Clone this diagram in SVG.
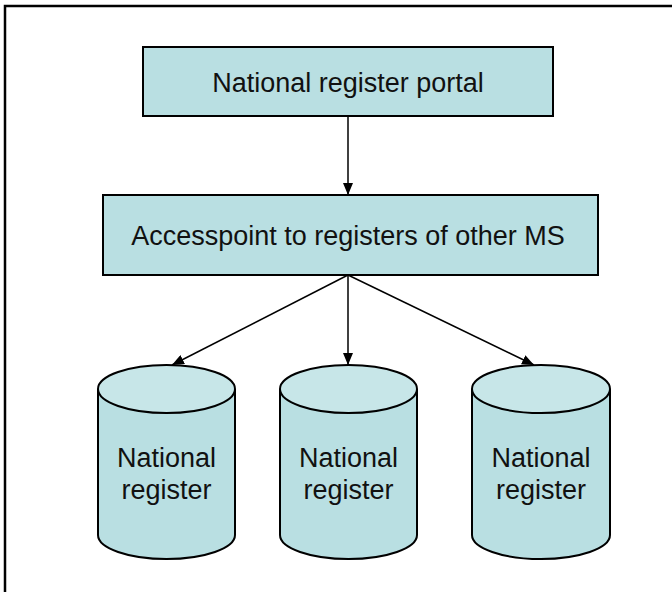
<svg xmlns="http://www.w3.org/2000/svg" width="672" height="592" viewBox="0 0 672 592">
<defs>
<style>
.box{fill:#B9DFE2;stroke:#000;stroke-width:2}
.cyl{fill:#B9DFE2;stroke:#000;stroke-width:2}
.top{fill:#C7E6E8;stroke:#000;stroke-width:2}
.lbl{font-family:"Liberation Sans",Arial,sans-serif;font-size:27px;fill:#111;text-anchor:middle}
.con{stroke:#000;stroke-width:1.5;fill:none}
</style>
<marker id="arr" viewBox="0 0 12 10" refX="12" refY="5" markerWidth="12" markerHeight="10" markerUnits="userSpaceOnUse" orient="auto">
<path d="M0,0 L12,5 L0,10 z" fill="#000"/>
</marker>
</defs>
<rect width="672" height="592" fill="#fff"/>
<path d="M5,592 V6 H672" fill="none" stroke="#000" stroke-width="2.5"/>
<g id="portal">
<rect class="box" x="143" y="47" width="410" height="69"/>
<text class="lbl" x="348" y="92">National register portal</text>
</g>
<g id="accesspoint">
<rect class="box" x="103" y="195" width="495" height="80"/>
<text class="lbl" x="348" y="245">Accesspoint to registers of other MS</text>
</g>
<g id="register1">
<path class="cyl" d="M98,389 V535 A68.5,24 0 0 0 235,535 V389"/>
<ellipse class="top" cx="166.5" cy="389" rx="68.5" ry="24"/>
<text class="lbl" x="166.5" y="467">National</text>
<text class="lbl" x="166.5" y="499">register</text>
</g>
<g id="register2">
<path class="cyl" d="M280,389 V535 A68.5,24 0 0 0 417,535 V389"/>
<ellipse class="top" cx="348.5" cy="389" rx="68.5" ry="24"/>
<text class="lbl" x="348.5" y="467">National</text>
<text class="lbl" x="348.5" y="499">register</text>
</g>
<g id="register3">
<path class="cyl" d="M472,389 V535 A69,24 0 0 0 610,535 V389"/>
<ellipse class="top" cx="541" cy="389" rx="69" ry="24"/>
<text class="lbl" x="541" y="467">National</text>
<text class="lbl" x="541" y="499">register</text>
</g>
<g id="connectors">
<line class="con" x1="348" y1="116" x2="348" y2="195" marker-end="url(#arr)"/>
<line class="con" x1="348" y1="275" x2="172" y2="365" marker-end="url(#arr)"/>
<line class="con" x1="348" y1="275" x2="348" y2="365" marker-end="url(#arr)"/>
<line class="con" x1="348" y1="275" x2="534" y2="365" marker-end="url(#arr)"/>
</g>
</svg>
